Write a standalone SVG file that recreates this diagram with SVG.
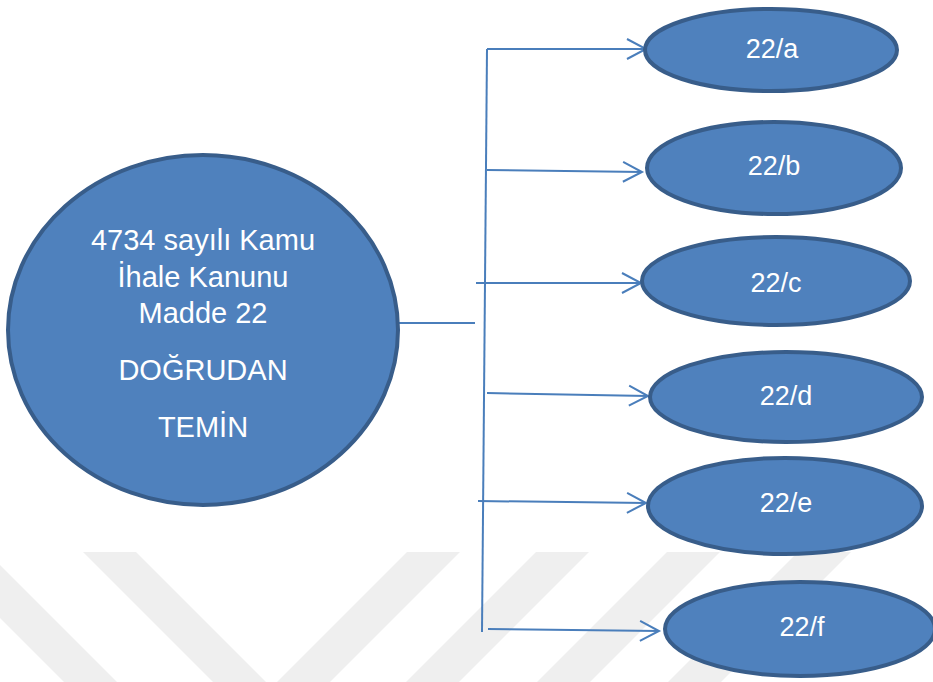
<svg xmlns="http://www.w3.org/2000/svg" width="933" height="682" viewBox="0 0 933 682">
<style>
.node ellipse{fill:#4f81bd;stroke:#385d8a;stroke-width:4}
.lbl{font-family:"Liberation Sans",Arial,sans-serif;fill:#ffffff;text-anchor:middle}
.big{font-size:29px}
.small{font-size:27px}
.conn path{fill:none;stroke:#4a7ebb;stroke-width:2}
.wm polygon{fill:#efefef}
</style>
<defs>
<marker id="arr" markerUnits="userSpaceOnUse" markerWidth="24" markerHeight="24" refX="20" refY="11" orient="auto" overflow="visible">
<path d="M1,1 L20,11 L1,21" fill="none" stroke="#4a7ebb" stroke-width="2"/>
</marker>
</defs>
<rect width="933" height="682" fill="#ffffff"/>
<g class="wm">
<polygon points="-66,552 -13,552 117,682 64,682"/>
<polygon points="83,552 136,552 266,682 213,682"/>
<polygon points="407,552 460,552 330,682 277,682"/>
<polygon points="536,552 589,552 459,682 406,682"/>
<polygon points="667,552 720,552 590,682 537,682"/>
<polygon points="798,552 851,552 721,682 668,682"/>
</g>
<g class="conn">
<path d="M398,323 L475,323"/>
<path d="M487,49 L482,632"/>
<path d="M487,49 L646,49" marker-end="url(#arr)"/>
<path d="M487,170 L642,172" marker-end="url(#arr)"/>
<path d="M476,283 L641,283" marker-end="url(#arr)"/>
<path d="M487,393 L648,396" marker-end="url(#arr)"/>
<path d="M478,501 L646,503" marker-end="url(#arr)"/>
<path d="M488,629 L659,631" marker-end="url(#arr)"/>
</g>
<g id="main" class="node">
<ellipse cx="203" cy="330" rx="195" ry="175"/>
<text class="lbl big" x="203" y="250">4734 sayılı Kamu</text>
<text class="lbl big" x="203" y="287">İhale Kanunu</text>
<text class="lbl big" x="203" y="323">Madde 22</text>
<text class="lbl big" x="203" y="380">DOĞRUDAN</text>
<text class="lbl big" x="203" y="437">TEMİN</text>
</g>
<g id="n22a" class="node">
<ellipse cx="771" cy="50" rx="126" ry="41"/>
<text class="lbl small" x="772" y="58">22/a</text>
</g>
<g id="n22b" class="node">
<ellipse cx="774" cy="168" rx="127" ry="46"/>
<text class="lbl small" x="774" y="175">22/b</text>
</g>
<g id="n22c" class="node">
<ellipse cx="776" cy="281" rx="134" ry="44"/>
<text class="lbl small" x="776" y="292">22/c</text>
</g>
<g id="n22d" class="node">
<ellipse cx="786" cy="397" rx="136" ry="45"/>
<text class="lbl small" x="786" y="405">22/d</text>
</g>
<g id="n22e" class="node">
<ellipse cx="785" cy="506" rx="137" ry="48"/>
<text class="lbl small" x="786" y="512">22/e</text>
</g>
<g id="n22f" class="node">
<ellipse cx="800" cy="629" rx="135" ry="47"/>
<text class="lbl small" x="802" y="636">22/f</text>
</g>
</svg>
